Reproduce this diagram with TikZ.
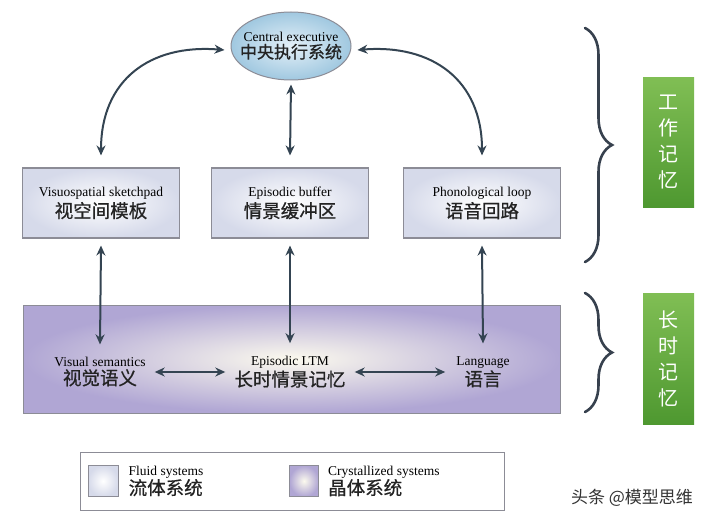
\documentclass[tikz,border=0pt]{standalone}
\usepackage{fontspec}
\setmainfont{Liberation Serif}
\newfontfamily\cjk{Noto Sans CJK SC}
\newfontfamily\cjkm{Noto Sans CJK SC}[FakeBold=0.7]
\usetikzlibrary{arrows.meta,shapes.geometric,calc,decorations.pathreplacing}
\definecolor{arrowc}{RGB}{52,68,82}
\definecolor{bracec}{RGB}{55,65,78}
\definecolor{boxedge}{RGB}{140,140,150}
\definecolor{fluidout}{RGB}{214,218,234}
\definecolor{crysout}{RGB}{176,166,212}
\definecolor{crysin}{RGB}{252,250,238}
\definecolor{ellout}{RGB}{160,200,224}
\definecolor{ellin}{RGB}{228,240,248}
\definecolor{greentop}{RGB}{128,190,84}
\definecolor{greenbot}{RGB}{78,152,48}
\definecolor{zhtext}{RGB}{35,35,35}
\newcommand{\entxt}[1]{{\fontsize{13.5}{15}\selectfont #1}}
\newcommand{\zhtxt}[1]{{\cjkm\color{zhtext}\fontsize{18.5}{21}\selectfont #1}}
\tikzset{
  arr/.style={draw=arrowc, line width=2pt, {Stealth[length=10pt,width=9pt]}-{Stealth[length=10pt,width=9pt]}},
  fluidbox/.style={draw=boxedge, line width=1.1pt, inner color=white, outer color=fluidout, minimum width=157pt, minimum height=70pt, align=center, inner sep=0pt},
  brc/.style={draw=bracec, line width=2.6pt, line cap=round, decorate, decoration={brace, amplitude=27pt, aspect=0.5}},
  greenbox/.style={draw=none, top color=greentop, bottom color=greenbot, minimum width=51pt, text=white, align=center, font=\cjk\fontsize{20}{26}\selectfont, inner sep=0pt},
}
\begin{document}
\begin{tikzpicture}[x=1pt,y=-1pt]
\useasboundingbox (0,0) rectangle (715,524);
% central executive
\node[ellipse, draw=boxedge, line width=1pt, inner color=ellin, outer color=ellout, minimum width=120pt, minimum height=68pt, inner sep=-9pt, align=center] (ce) at (291,46)
  {\entxt{Central executive}\\[1pt]{\cjkm\color{zhtext}\fontsize{17}{19}\selectfont 中央执行系统}};
% working memory boxes
\node[fluidbox] (vs) at (101,203) {\entxt{Visuospatial sketchpad}\\[2pt]\zhtxt{视空间模板}};
\node[fluidbox] (eb) at (290,203) {\entxt{Episodic buffer}\\[2pt]\zhtxt{情景缓冲区}};
\node[fluidbox] (pl) at (482,203) {\entxt{Phonological loop}\\[2pt]\zhtxt{语音回路}};
% long term memory
\node[draw=boxedge, line width=1pt, inner color=crysin, outer color=crysout, minimum width=537pt, minimum height=108pt, inner sep=0pt] (lt) at (291.5,359) {};
\node[align=center, inner sep=1pt] (vsem) at (100,372) {\entxt{Visual semantics}\\[1pt]\zhtxt{视觉语义}};
\node[align=center, inner sep=1pt] (eltm) at (290,372) {\entxt{Episodic LTM}\\[1pt]\zhtxt{长时情景记忆}};
\node[align=center, inner sep=1pt] (lang) at (483,372) {\entxt{Language}\\[1pt]\zhtxt{语言}};
% arrows
\draw[arr] ([yshift=-4pt]ce.south) -- ([yshift=12pt]eb.north);
\draw[arr] ([yshift=-7pt]vs.south) -- ([yshift=12pt]vsem.north);
\draw[arr] ([yshift=-7pt]eb.south) -- ([yshift=12pt]eltm.north);
\draw[arr] ([yshift=-7pt]pl.south) -- ([yshift=12pt]lang.north);
\draw[arr] ([xshift=8pt]vsem.east) -- ([xshift=-8pt]eltm.west);
\draw[arr] ([xshift=8pt]eltm.east) -- ([xshift=-10pt]lang.west);
\draw[arr] ([yshift=12pt]vs.north) .. controls (101,80) and (150,44) .. ([xshift=-6pt,yshift=-4pt]ce.west);
\draw[arr] ([xshift=6pt,yshift=-4pt]ce.east) .. controls (432,44) and (482,80) .. ([yshift=12pt]pl.north);
% braces
\draw[brc] (585,28) -- (585,262);
\draw[brc] (585,293) -- (585,412);
% green labels
\node[greenbox, minimum height=129pt] (wm) at (668.5,142.5) {工\\作\\记\\忆};
\node[greenbox, minimum height=131pt] (lm) at (668.5,359) {长\\时\\记\\忆};
% legend
\node[draw=boxedge, line width=1pt, fill=white, minimum width=424pt, minimum height=58pt, inner sep=0pt] (leg) at (292,481) {};
\node[draw=boxedge, line width=1pt, inner color=white, outer color=fluidout, minimum width=30pt, minimum height=31pt, inner sep=0pt] (fs) at (103,481) {};
\node[draw=boxedge, line width=1pt, inner color=crysin, outer color=crysout, minimum width=29pt, minimum height=31pt, inner sep=0pt] (cs) at (304,481) {};
\node[anchor=west, align=left, inner sep=0pt] (fst) at ([xshift=10pt]fs.east) {\entxt{Fluid systems}\\[0pt]\zhtxt{流体系统}};
\node[anchor=west, align=left, inner sep=0pt] (cst) at ([xshift=9pt]cs.east) {\entxt{Crystallized systems}\\[0pt]\zhtxt{晶体系统}};
% watermark
\node[text=black!80, font=\cjk\fontsize{17}{20}\selectfont, inner sep=0pt] (wmk) at (632,498) {头条 @模型思维};
\end{tikzpicture}
\end{document}
